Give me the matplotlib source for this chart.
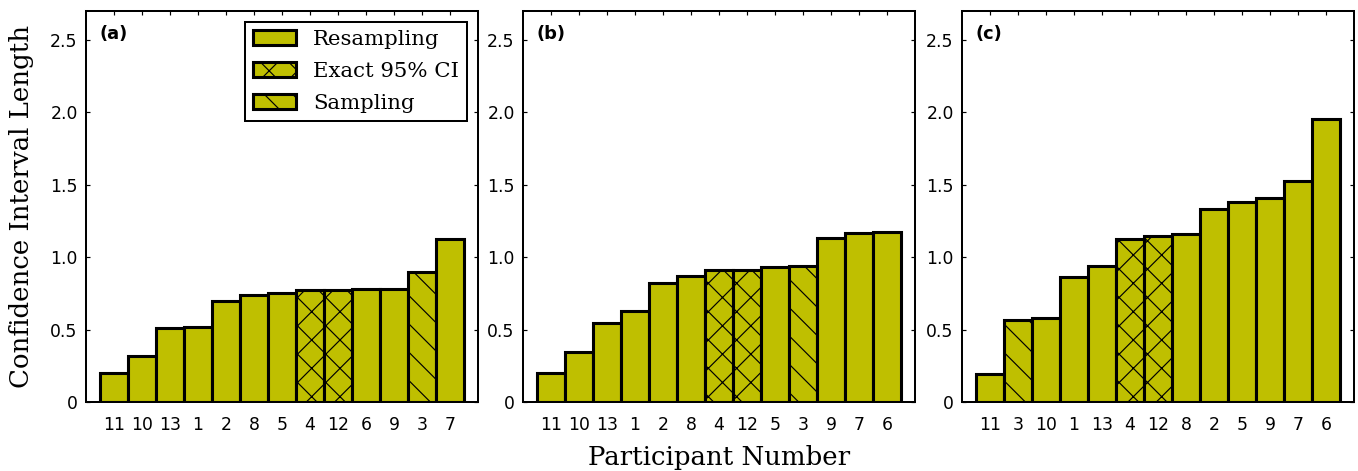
import matplotlib
matplotlib.use('Agg')
import matplotlib.pyplot as plt
from matplotlib.patches import Patch
from matplotlib.ticker import FuncFormatter

# ---------------------- data ----------------------
labels_a = ['11', '10', '13', '1', '2', '8', '5', '4', '12', '6', '9', '3', '7']
values_a = [0.20, 0.32, 0.51, 0.52, 0.70, 0.74, 0.755, 0.77, 0.77, 0.78, 0.78, 0.90, 1.125]
kinds_a = ['R', 'R', 'R', 'R', 'R', 'R', 'R', 'E', 'E', 'R', 'R', 'S', 'R']

labels_b = ['11', '10', '13', '1', '2', '8', '4', '12', '5', '3', '9', '7', '6']
values_b = [0.198, 0.343, 0.548, 0.628, 0.822, 0.872, 0.909, 0.914, 0.932, 0.942, 1.135, 1.167, 1.174]
kinds_b = ['R', 'R', 'R', 'R', 'R', 'R', 'E', 'E', 'R', 'S', 'R', 'R', 'R']

labels_c = ['11', '3', '10', '1', '13', '4', '12', '8', '2', '5', '9', '7', '6']
values_c = [0.196, 0.566, 0.578, 0.861, 0.939, 1.128, 1.144, 1.160, 1.331, 1.381, 1.409, 1.526, 1.957]
kinds_c = ['R', 'S', 'R', 'R', 'R', 'E', 'E', 'R', 'R', 'R', 'R', 'R', 'R']

legend_names = {'R': 'Resampling', 'E': 'Exact 95% CI', 'S': 'Sampling'}
hatches = {'R': '', 'E': 'xx', 'S': '\\\\'}

# ---------------------- style ----------------------
DPI = 170
plt.rcParams['hatch.linewidth'] = 0.5
plt.rcParams['font.family'] = 'DejaVu Sans'
bar_color = (0.75, 0.75, 0.0)

fig = plt.figure(figsize=(1358 / DPI, 471 / DPI), dpi=DPI)

lefts = [86, 523, 962]
panels = [(labels_a, values_a, kinds_a, '(a)'),
          (labels_b, values_b, kinds_b, '(b)'),
          (labels_c, values_c, kinds_c, '(c)')]

axes = []
for left, (labs, vals, kinds, tag) in zip(lefts, panels):
    ax = fig.add_axes([left / 1358, 69 / 471, 392 / 1358, 391 / 471])
    x = list(range(len(vals)))
    for xi, v, k in zip(x, vals, kinds):
        ax.bar(xi, v, width=1.0, color=bar_color, edgecolor='black',
               linewidth=1.3, hatch=hatches[k], zorder=2)
    ax.set_xlim(-1, 13)
    ax.set_ylim(0, 2.7)
    ax.set_xticks(x)
    ax.set_xticklabels(labs)
    ax.set_yticks([0, 0.5, 1.0, 1.5, 2.0, 2.5])
    ax.yaxis.set_major_formatter(FuncFormatter(lambda v, p: '0' if v == 0 else f'{v:.1f}'))
    ax.tick_params(direction='in', top=True, right=True, length=1.8, width=0.5,
                   labelsize=7.3)
    ax.tick_params(axis='x', pad=6)
    ax.tick_params(axis='y', pad=3.5)
    for s in ax.spines.values():
        s.set_linewidth(0.85)
    ax.text(0.035, 0.965, tag, transform=ax.transAxes, ha='left', va='top',
            fontsize=7.5, fontweight='bold')
    axes.append(ax)

axes[0].set_ylabel('Confidence Interval Length', family='DejaVu Serif', fontsize=11, labelpad=7)
axes[1].set_xlabel('Participant Number', family='DejaVu Serif', fontsize=11, labelpad=4.5)

handles = [Patch(facecolor=bar_color, edgecolor='black', linewidth=1.3, hatch=hatches[k],
                 label=legend_names[k]) for k in ['R', 'E', 'S']]
leg = axes[0].legend(handles=handles, loc='upper right', fancybox=False, framealpha=1,
                     prop={'family': 'DejaVu Serif', 'size': 9}, handlelength=2.0,
                     labelspacing=0.6, borderaxespad=0.5)
leg.get_frame().set_edgecolor('black')
leg.get_frame().set_linewidth(0.85)

fig.savefig('out.png', dpi=DPI)
